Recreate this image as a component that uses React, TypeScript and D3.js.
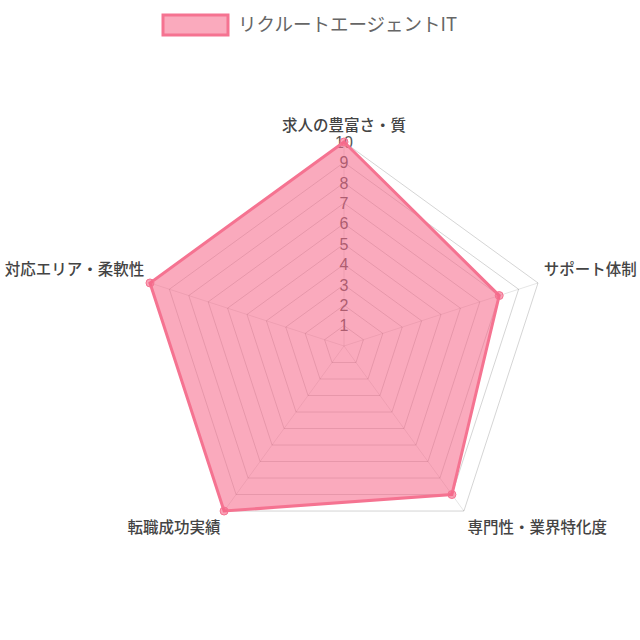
import React, { useEffect, useRef } from 'react';
import * as d3 from 'd3';

// chart data
const axisLabels = ['求人の豊富さ・質', 'サポート体制', '専門性・業界特化度', '転職成功実績', '対応エリア・柔軟性'];
const scores = [10, 8, 9, 10, 10];
const tickValues = [1, 2, 3, 4, 5, 6, 7, 8, 9, 10];
const seriesName = 'リクルートエージェントIT';

const FONT = '"Noto Sans CJK JP", "Noto Sans", sans-serif';

export default function App() {
  const svgRef = useRef<SVGSVGElement>(null);

  useEffect(() => {
    if (!svgRef.current) return;
    const svg = d3.select(svgRef.current);
    svg.selectAll('*').remove();

    const cx = 344;
    const cy = 346;
    const R = 204;
    const n = axisLabels.length;

    const r = d3.scaleLinear().domain([0, 10]).range([0, R]);
    const angle = (i: number) => -Math.PI / 2 + (i * 2 * Math.PI) / n;
    const pt = (i: number, v: number): [number, number] => [
      cx + r(v) * Math.cos(angle(i)),
      cy + r(v) * Math.sin(angle(i)),
    ];

    // 1. grid rings
    tickValues.forEach(t => {
      const pts = axisLabels.map((_, i) => pt(i, t));
      svg.append('path')
        .attr('d', d3.line()(pts) + 'Z')
        .attr('fill', 'none')
        .attr('stroke', 'rgba(0,0,0,0.17)')
        .attr('stroke-width', 1);
    });

    // 2. angle lines
    axisLabels.forEach((_, i) => {
      const [x, y] = pt(i, 10);
      svg.append('line')
        .attr('x1', cx).attr('y1', cy)
        .attr('x2', x).attr('y2', y)
        .attr('stroke', 'rgba(0,0,0,0.1)')
        .attr('stroke-width', 1);
    });

    // 3. tick labels (drawn under the dataset)
    svg.selectAll('.tick')
      .data(tickValues)
      .enter().append('text')
      .attr('class', 'tick')
      .attr('x', cx)
      .attr('y', d => cy - r(d))
      .attr('dy', '0.36em')
      .attr('text-anchor', 'middle')
      .attr('font-family', 'Helvetica, Arial, "Liberation Sans", sans-serif')
      .attr('font-size', '16px')
      .attr('fill', '#555')
      .text(d => String(d));

    // 4. dataset
    const dataPts = scores.map((v, i) => pt(i, v));
    svg.append('path')
      .attr('d', d3.line()(dataPts) + 'Z')
      .attr('fill', 'rgba(245, 100, 135, 0.55)')
      .attr('stroke', 'rgb(245, 115, 145)')
      .attr('stroke-width', 3)
      .attr('stroke-linejoin', 'miter');

    svg.selectAll('.pt')
      .data(dataPts)
      .enter().append('circle')
      .attr('class', 'pt')
      .attr('cx', d => d[0])
      .attr('cy', d => d[1])
      .attr('r', 4)
      .attr('fill', 'rgb(245, 100, 135)')
      .attr('fill-opacity', 0.6)
      .attr('stroke', 'rgb(245, 115, 145)')
      .attr('stroke-width', 1);

    // 5. point labels
    const labelPad = 6;
    axisLabels.forEach((label, i) => {
      const a = angle(i);
      const [x, y] = [cx + (R + labelPad) * Math.cos(a), cy + (R + labelPad) * Math.sin(a)];
      const c = Math.cos(a);
      const s = Math.sin(a);
      const anchor = Math.abs(c) < 0.05 ? 'middle' : c > 0 ? 'start' : 'end';
      let dy = '0.35em';
      let yy = y - 12;
      if (s < -0.9) { yy = y - 5; dy = '0em'; }
      else if (s > 0.5) { yy = y + 4; dy = '0.85em'; }
      svg.append('text')
        .attr('x', x)
        .attr('y', yy)
        .attr('dy', dy)
        .attr('text-anchor', anchor)
        .attr('font-family', FONT)
        .attr('font-size', '15.5px')
        .attr('font-weight', 500)
        .attr('fill', '#444')
        .text(label);
    });

    // 6. legend
    svg.append('rect')
      .attr('x', 163).attr('y', 15)
      .attr('width', 65).attr('height', 20)
      .attr('fill', 'rgba(245, 100, 135, 0.55)')
      .attr('stroke', 'rgb(245, 115, 145)')
      .attr('stroke-width', 3);
    svg.append('text')
      .attr('x', 238).attr('y', 25)
      .attr('dy', '0.35em')
      .attr('font-family', FONT)
      .attr('font-size', '18.5px')
      .attr('fill', '#666')
      .text(seriesName);
  }, []);

  return (
    <div style={{ position: 'fixed', left: 0, top: 0, width: 640, height: 640, background: '#fff' }}>
      <svg ref={svgRef} width={640} height={640} style={{ display: 'block' }} />
    </div>
  );
}
